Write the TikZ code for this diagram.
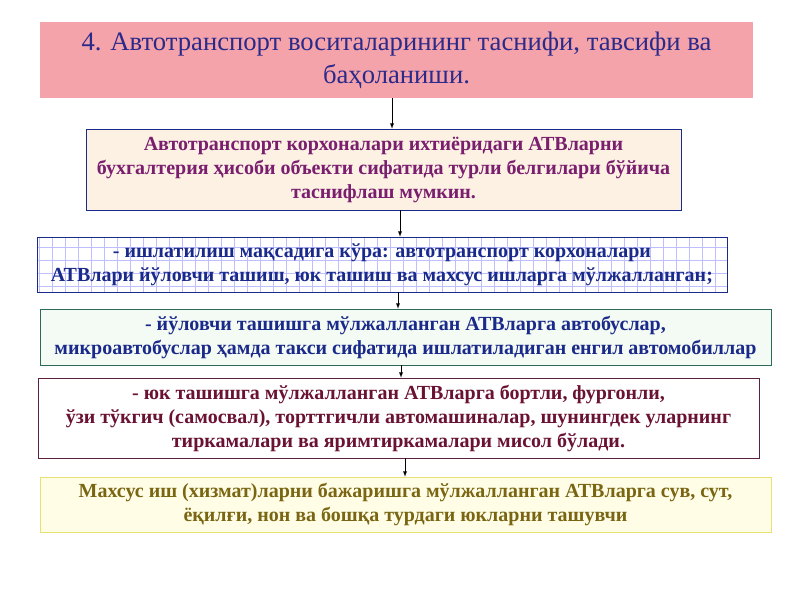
\documentclass[tikz,border=0pt]{standalone}
\usepackage{fontspec}
\setmainfont{Liberation Serif}
\usetikzlibrary{positioning}
\definecolor{titlefill}{HTML}{F5A3AA}
\definecolor{titletext}{HTML}{2A2A8A}
\definecolor{peach}{HTML}{FDF1E4}
\definecolor{plum}{HTML}{7A1E6E}
\definecolor{navy}{HTML}{1A2A8A}
\definecolor{teal}{HTML}{2E6A5A}
\definecolor{mint}{HTML}{F4FAF4}
\definecolor{maroon}{HTML}{6A1232}
\definecolor{maroonline}{HTML}{5A2040}
\definecolor{lemon}{HTML}{FFFDE6}
\definecolor{yelline}{HTML}{E8E070}
\definecolor{olive}{HTML}{7A6612}
\begin{document}
\begin{tikzpicture}
		[
		x=0.75pt, y=-0.75pt, font=\bfseries\fontsize{15}{18}\selectfont, >=latex,
		box/.style={draw, thin, align=center, inner sep=0pt},
		arr/.style={->, black, thin}
		]
		
		%Rahmen
		\useasboundingbox (0,0) rectangle (800,600);
		
		%Titel
		\node[box, draw=none, fill=titlefill, text=titletext, minimum width=713*0.75pt, minimum height=76*0.75pt,
			font=\fontsize{20}{25}\selectfont] (t) at (396.5,60)
			{4. Автотранспорт воситаларининг таснифи, тавсифи ва\\ баҳоланиши.};
		
		%Kasten 1
		\node[box, draw=navy, fill=peach, text=plum, minimum width=595*0.75pt, minimum height=81*0.75pt] (b1) at (383.5,169.5)
			{Автотранспорт корхоналари ихтиёридаги АТВларни\\ бухгалтерия ҳисоби объекти сифатида турли белгилари бўйича\\ таснифлаш мумкин.};
		
		%Kasten 2 mit Raster
		\fill[white] (37,237) rectangle (727,292);
		\draw[step=9.75pt, blue!25, very thin] (37,237) grid (727,292);
		\node[box, draw=navy, text=navy, minimum width=690*0.75pt, minimum height=55*0.75pt] (b2) at (382,264.5)
			{- ишлатилиш мақсадига кўра: автотранспорт корхоналари\\ АТВлари йўловчи ташиш, юк ташиш ва махсус ишларга мўлжалланган;};
		
		%Kasten 3
		\node[box, draw=teal, fill=mint, text=navy, minimum width=731*0.75pt, minimum height=56*0.75pt] (b3) at (405.5,337)
			{- йўловчи ташишга мўлжалланган АТВларга автобуслар,\\ микроавтобуслар ҳамда такси сифатида ишлатиладиган енгил автомобиллар};
		
		%Kasten 4
		\node[box, draw=maroonline, fill=white, text=maroon, minimum width=721*0.75pt, minimum height=80*0.75pt] (b4) at (398.5,418)
			{- юк ташишга мўлжалланган АТВларга бортли, фургонли,\\ ўзи тўкгич (самосвал), торттгичли автомашиналар, шунингдек уларнинг\\ тиркамалари ва яримтиркамалари мисол бўлади.};
		
		%Kasten 5
		\node[box, draw=yelline, fill=lemon, text=olive, minimum width=731*0.75pt, minimum height=55*0.75pt] (b5) at (405.5,504.5)
			{Махсус иш (хизмат)ларни бажаришга мўлжалланган АТВларга сув, сут,\\ ёқилғи, нон ва бошқа турдаги юкларни ташувчи};
		
		%Pfeile
		\coordinate (p1) at (392,0);
		\coordinate (p2) at (400,0);
		\coordinate (p3) at (398,0);
		\coordinate (p4) at (401,0);
		\coordinate (p5) at (405,0);
		\draw[arr] (t.south -| p1) -- (b1.north -| p1);
		\draw[arr] (b1.south -| p2) -- (b2.north -| p2);
		\draw[arr] (b2.south -| p3) -- (b3.north -| p3);
		\draw[arr] (b3.south -| p4) -- (b4.north -| p4);
		\draw[arr] (b4.south -| p5) -- (b5.north -| p5);
	\end{tikzpicture}
\end{document}
